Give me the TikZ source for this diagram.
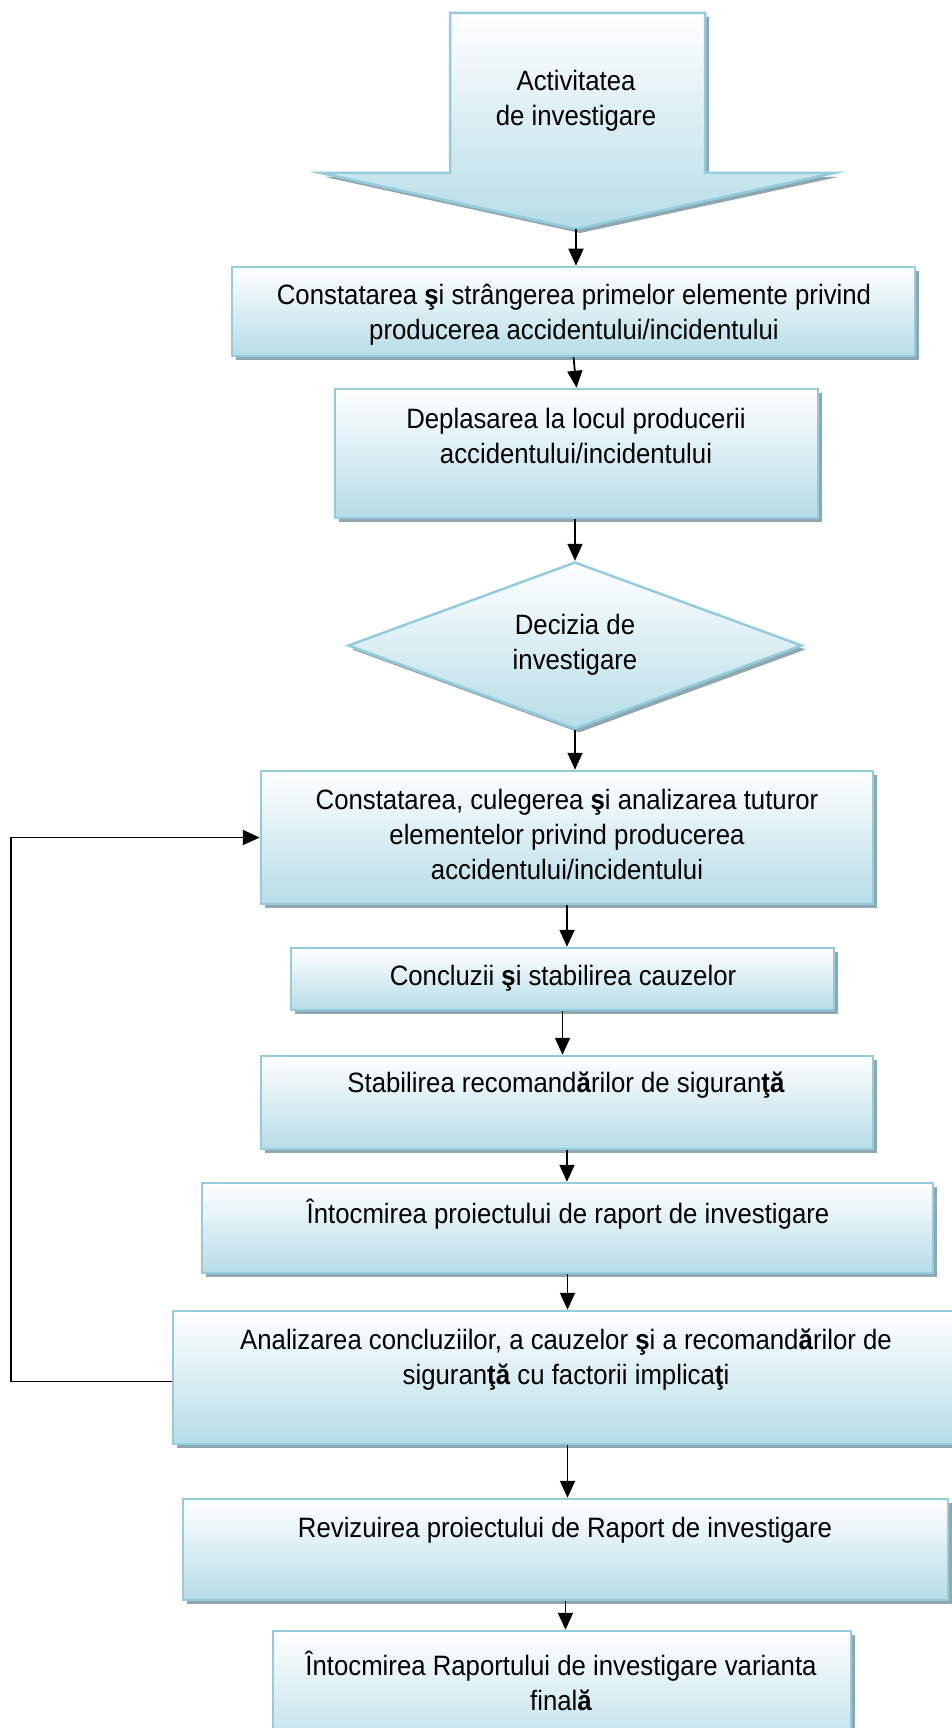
\documentclass[tikz,border=0pt]{standalone}
\usepackage{fontspec}
\setmainfont{Liberation Sans}[FakeStretch=0.92]
\usetikzlibrary{arrows.meta,shapes.geometric,shadows}
\definecolor{bordc}{HTML}{93CDDD}
\definecolor{botc}{HTML}{B6DDE8}
\definecolor{shadc}{HTML}{8FA8B0}
\begin{document}
\begin{tikzpicture}[x=1pt,y=-1pt,
  box/.style={draw=bordc, line width=2.5pt, top color=white, bottom color=botc, inner sep=0pt,
    general shadow={shadow xshift=4pt, shadow yshift=-4pt, fill=shadc, draw=none}},
  txt/.style={align=center, font=\fontsize{28}{35}\selectfont, inner sep=0pt},
  arr/.style={line width=1.8pt, -{Triangle[length=17pt,width=15pt]}}]
\useasboundingbox[fill=white] (0,0) rectangle (952,1728);

% big top arrow
\fill[shadc] (454,17) -- (709,17) -- (709,177) -- (838,177) -- (580,233) -- (325,177) -- (454,177) -- cycle;
\shade[top color=white, bottom color=botc, draw=bordc, line width=2.5pt, line join=miter]
  (450,13) -- (705,13) -- (705,173) -- (834,173) -- (576,229) -- (321,173) -- (450,173) -- cycle;
\coordinate (tip) at (576,229);
\node[txt] (t0) at (576,101) {Activitatea\\de investigare};

% boxes
\node[box, minimum width=683, minimum height=89] (b1) at (573.5,311.5) {};
\node[box, minimum width=483, minimum height=129] (b2) at (576.5,453.5) {};
\node[box, shape=diamond, minimum width=454, minimum height=167] (d) at (575,645.5) {};
\node[box, minimum width=612, minimum height=133] (b3) at (567,837.5) {};
\node[box, minimum width=543, minimum height=62] (b4) at (562.5,979) {};
\node[box, minimum width=612, minimum height=93] (b5) at (567,1102.5) {};
\node[box, minimum width=731, minimum height=90] (b6) at (567.5,1228) {};
\node[box, minimum width=817, minimum height=133] (b7) at (581.5,1377.5) {};
\node[box, minimum width=765, minimum height=101] (b8) at (565.5,1549.5) {};
\node[box, minimum width=578, minimum height=129] (b9) at (562,1695.5) {};

% texts
\node[txt] (t1) at (574,315) {Constatarea \textbf{ş}i strângerea primelor elemente privind\\producerea accidentului/incidentului};
\node[txt] (t2) at (576,436) {Deplasarea la locul producerii\\accidentului/incidentului};
\node[txt] (td) at (575,645) {Decizia de\\investigare};
\node[txt] (t3) at (567,834) {Constatarea, culegerea \textbf{ş}i analizarea tuturor\\elementelor privind producerea\\accidentului/incidentului};
\node[txt] (t4) at (563,978) {Concluzii \textbf{ş}i stabilirea cauzelor};
\node[txt] (t5) at (566,1085) {Stabilirea recomand\textbf{ă}rilor de siguran\textbf{ţă}};
\node[txt] (t6) at (568,1214) {Întocmirea proiectului de raport de investigare};
\node[txt] (t7) at (566,1360) {Analizarea concluziilor, a cauzelor \textbf{ş}i a recomand\textbf{ă}rilor de\\siguran\textbf{ţă} cu factorii implica\textbf{ţ}i};
\node[txt] (t8) at (565,1530) {Revizuirea proiectului de Raport de investigare};
\node[txt] (t9) at (561,1681) {Întocmirea Raportului de investigare varianta\\final\textbf{ă}};

% connectors
\draw[arr] (tip) -- (tip |- b1.north);
\draw[arr] (b1.south) -- (b2.north);
\draw[arr] (b2.south -| d.north) -- (d.north);
\draw[arr] (d.south) -- (d.south |- b3.north);
\draw[arr] (b3.south) -- (b3.south |- b4.north);
\draw[arr] (b4.south) -- (b4.south |- b5.north);
\draw[arr] (b5.south) -- (b5.south |- b6.north);
\draw[arr] (b6.south) -- (b6.south |- b7.north);
\draw[arr] (b6.south |- b7.south) -- (b6.south |- b8.north);
\draw[arr] (b8.south) -- (b8.south |- b9.north);
\coordinate (fb) at (11,837.5);
\draw[arr] ([yshift=-4pt]b7.west) -| (fb) -- (b3.west);
\end{tikzpicture}
\end{document}
